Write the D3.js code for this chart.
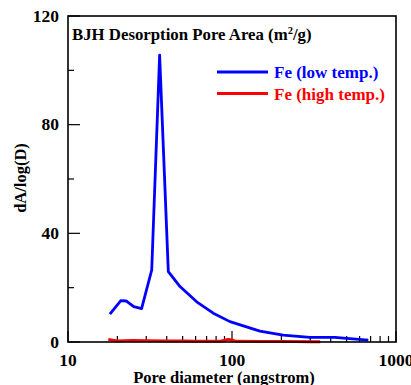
<!DOCTYPE html>
<html><head><meta charset="utf-8">
<script src="https://cdn.jsdelivr.net/npm/d3@7"></script>
<style>body{margin:0;background:#fff}svg{display:block}text{font-family:"Liberation Serif","Times New Roman",serif;font-weight:bold}</style>
</head><body>
<script>
const lowTempD = [18, 21, 22.6, 25.2, 28.1, 32.4, 36.2, 40.9, 48.2, 60.9, 76.9, 97.2, 148, 205, 299, 425, 500, 678];
const lowTempA = [10.3, 15.2, 15.1, 13, 12.3, 26.5, 105.6, 25.9, 20.4, 14.8, 10.6, 7.5, 4.0, 2.5, 1.7, 1.7, 1.3, 0.7];
const highTempD = [17.6, 20, 25, 30, 40, 50, 60, 70, 85, 95, 100, 105, 150, 200, 300, 345];
const highTempA = [1.0, 0.4, 0.6, 0.5, 0.4, 0.4, 0.3, 0.3, 0.3, 1.0, 0.8, 0.3, 0.2, 0.2, 0.1, 0.1];
const xTickLabels = [10, 100, 1000];
const yTickLabels = [0, 40, 80, 120];
const seriesNames = ["Fe (low temp.)", "Fe (high temp.)"];
const seriesColors = ["#0000ff", "#ff0000"];

const W = 411, H = 385;
const m = {l: 68, r: 15, t: 16, b: 43};
const svg = d3.select("body").append("svg").attr("width", W).attr("height", H);
const x = d3.scaleLog().domain([10, 1000]).range([m.l, W - m.r]);
const y = d3.scaleLinear().domain([0, 120]).range([H - m.b, m.t]);

const xMinor = [];
for (let dec of [10, 100]) for (let k = 2; k <= 9; k++) xMinor.push(dec * k);
const yMinor = [20, 60, 100];

const g = svg.append("g");
g.selectAll(".xmaj").data(xTickLabels).join("line")
  .attr("x1", d => x(d)).attr("x2", d => x(d)).attr("y1", y(0)).attr("y2", y(0) - 11)
  .attr("stroke", "#000").attr("stroke-width", 1.2);
g.selectAll(".xmin").data(xMinor).join("line")
  .attr("x1", d => x(d)).attr("x2", d => x(d)).attr("y1", y(0)).attr("y2", y(0) - 6)
  .attr("stroke", "#000").attr("stroke-width", 1.2);
g.selectAll(".ymaj").data(yTickLabels).join("line")
  .attr("x1", x(10)).attr("x2", x(10) + 12).attr("y1", d => y(d)).attr("y2", d => y(d))
  .attr("stroke", "#000").attr("stroke-width", 1.2);
g.selectAll(".ymin").data(yMinor).join("line")
  .attr("x1", x(10)).attr("x2", x(10) + 6).attr("y1", d => y(d)).attr("y2", d => y(d))
  .attr("stroke", "#000").attr("stroke-width", 1.2);

svg.selectAll(".xl").data(xTickLabels).join("text")
  .attr("x", d => x(d)).attr("y", 366).attr("text-anchor", "middle")
  .attr("font-size", 17.5).text(d => d);
svg.selectAll(".yl").data(yTickLabels).join("text")
  .attr("x", 59).attr("y", d => y(d) + 5.5).attr("text-anchor", "end")
  .attr("font-size", 17.5).text(d => d);

const line = d3.line().x(d => x(d[0])).y(d => y(d[1]));
const series = [d3.zip(lowTempD, lowTempA), d3.zip(highTempD, highTempA)];
svg.selectAll(".ser").data(series).join("path")
  .attr("d", line).attr("fill", "none")
  .attr("stroke", (d, i) => seriesColors[i]).attr("stroke-width", 2.8)
  .attr("stroke-linejoin", "round");

svg.append("rect").attr("x", m.l).attr("y", m.t)
  .attr("width", W - m.r - m.l).attr("height", H - m.b - m.t)
  .attr("fill", "none").attr("stroke", "#000").attr("stroke-width", 1.6);

const t = svg.append("text").attr("x", 72).attr("y", 40).attr("font-size", 16.8);
t.append("tspan").text("BJH Desorption Pore Area (m");
t.append("tspan").attr("font-size", 10.5).attr("dy", -6).text("2");
t.append("tspan").attr("dy", 6).text("/g)");

const lg = svg.selectAll(".lg").data(seriesNames).join("g")
  .attr("transform", (d, i) => `translate(0,${72 + i * 21.5})`);
lg.append("line").attr("x1", 217).attr("x2", 268).attr("y1", 0).attr("y2", 0)
  .attr("stroke", (d, i) => seriesColors[i]).attr("stroke-width", 2.8);
lg.append("text").attr("x", 274).attr("y", 6).attr("font-size", 17)
  .attr("fill", (d, i) => seriesColors[i]).text(d => d);

svg.append("text").attr("x", 224).attr("y", 383).attr("text-anchor", "middle")
  .attr("font-size", 16.5).text("Pore diameter (angstrom)");
svg.append("text").attr("transform", "translate(26,178) rotate(-90)")
  .attr("text-anchor", "middle").attr("font-size", 16.5).text("dA/log(D)");
</script>
</body></html>
